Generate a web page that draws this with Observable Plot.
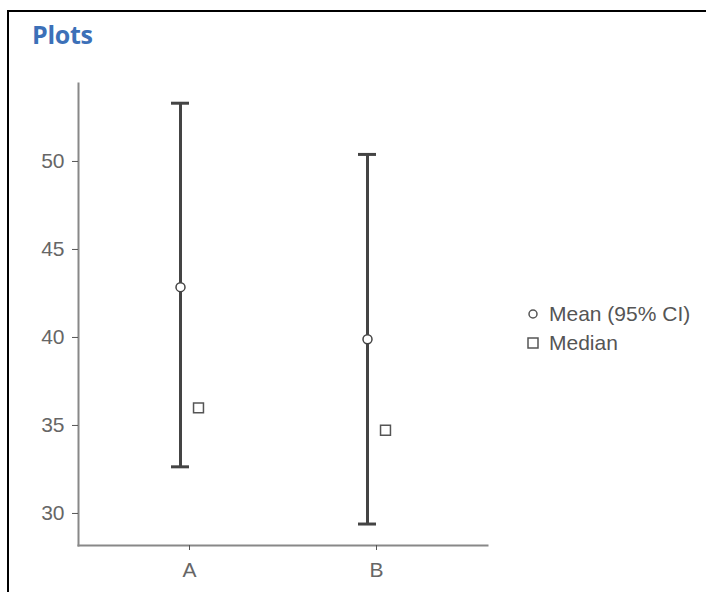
<!DOCTYPE html>
<html>
<head>
<meta charset="utf-8">
<script src="https://cdn.jsdelivr.net/npm/d3@7"></script>
<script src="https://cdn.jsdelivr.net/npm/@observablehq/plot@0.6"></script>
<style>
  html, body { margin: 0; padding: 0; background: #fff; }
  #wrap { position: relative; width: 706px; height: 592px; overflow: hidden; background: #fff; }
  #border { position: absolute; left: 7px; top: 10px; right: -10px; bottom: -10px; border-left: 2px solid #000; border-top: 2px solid #000; }
  #title { position: absolute; left: 32px; top: 17px; font-family: "Open Sans", sans-serif; font-weight: 700; font-size: 25px; color: #3c70b8; line-height: normal; letter-spacing: -0.3px; }
  #chart { position: absolute; left: 0; top: 0; }
  #chart svg text { font-size: 21px !important; font-family: "Liberation Sans", Arial, sans-serif; }
  #legend { position: absolute; left: 524px; top: 299px; font-family: "Liberation Sans", Arial, sans-serif; font-size: 21px; color: #555; }
  .item { display: flex; align-items: center; height: 29px; }
  .sym { width: 18px; height: 18px; margin-right: 7px; display: inline-block; }
</style>
</head>
<body>
<div id="wrap">
  <div id="border"></div>
  <div id="title">Plots</div>
  <div id="chart"></div>
  <div id="legend"></div>
</div>
<script>
const groups = ["A", "B"];
const meanValues = [42.86, 39.9];
const lowerCI = [32.65, 29.4];
const upperCI = [53.31, 50.4];
const medianValues = [36.0, 34.73];
const yTicks = [30, 35, 40, 45, 50];
const legendLabels = ["Mean (95% CI)", "Median"];

const rows = groups.map((g, i) => ({
  group: g, mean: meanValues[i], lower: lowerCI[i], upper: upperCI[i], median: medianValues[i]
}));

const barColor = "#444";
const plot = Plot.plot({
  width: 706,
  height: 592,
  marginLeft: 78,
  marginRight: 219,
  marginTop: 83,
  marginBottom: 47,
  style: { fontFamily: "'Liberation Sans', Arial, sans-serif", fontSize: "21px", color: "#666", background: "transparent" },
  x: { type: "band", domain: groups, padding: 0.187, label: null },
  y: { domain: [28.18, 54.43], label: null },
  marks: [
    Plot.frame({ anchor: "left", stroke: "#888", strokeWidth: 2 }),
    Plot.frame({ anchor: "bottom", stroke: "#888", strokeWidth: 2 }),
    Plot.axisY({ ticks: yTicks, tickSize: 6, tickPadding: 8, stroke: "#555", fill: "#666", fontSize: 21, label: null }),
    Plot.axisX({ tickSize: 5, tickPadding: 12, stroke: "#555", fill: "#666", fontSize: 21, label: null }),
    Plot.ruleX(rows, { x: "group", y1: "lower", y2: "upper", dx: -9, stroke: barColor, strokeWidth: 3 }),
    Plot.tickY(rows, { x: "group", y: "upper", dx: -9, insetLeft: 67, insetRight: 67, stroke: barColor, strokeWidth: 3 }),
    Plot.tickY(rows, { x: "group", y: "lower", dx: -9, insetLeft: 67, insetRight: 67, stroke: barColor, strokeWidth: 3 }),
    Plot.dot(rows, { x: "group", y: "mean", dx: -9, r: 4.5, fill: "white", stroke: "#444", strokeWidth: 1.5 }),
    Plot.dot(rows, { x: "group", y: "median", dx: 9, symbol: "square", r: 5.6, fill: "white", stroke: "#555", strokeWidth: 1.5 })
  ]
});
document.getElementById("chart").appendChild(plot);

const legend = document.getElementById("legend");
const icons = [
  '<svg class="sym" viewBox="0 0 18 18"><circle cx="9" cy="9" r="4" fill="white" stroke="#555" stroke-width="1.5"/></svg>',
  '<svg class="sym" viewBox="0 0 18 18"><rect x="4" y="4" width="10" height="10" fill="white" stroke="#555" stroke-width="1.5"/></svg>'
];
legendLabels.forEach((t, i) => {
  const d = document.createElement("div");
  d.className = "item";
  d.innerHTML = icons[i] + '<span>' + t + '</span>';
  legend.appendChild(d);
});
</script>
</body>
</html>
